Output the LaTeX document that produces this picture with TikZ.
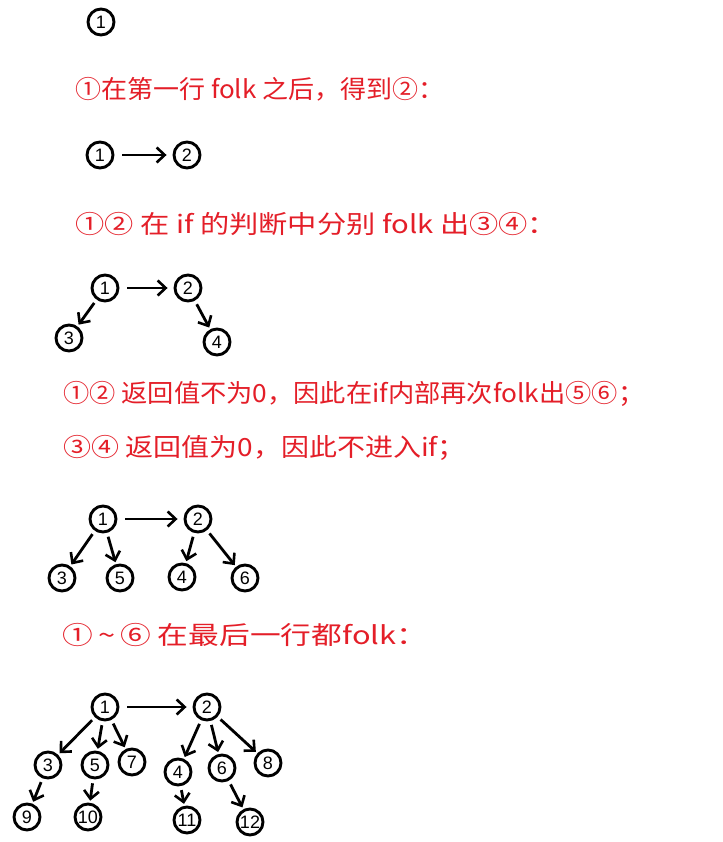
\documentclass[tikz,border=0pt]{standalone}
\usepackage{fontspec}
\newfontfamily\cjk{Noto Sans CJK SC}
\newfontfamily\numf{Liberation Sans}
\usetikzlibrary{arrows.meta}
\definecolor{hred}{RGB}{228,30,40}
\begin{document}
\begin{tikzpicture}[x=1pt,y=-1pt,
  nd/.style={circle,draw,line width=2.9pt,minimum size=26pt,inner sep=0pt,font=\numf\fontsize{18}{18}\selectfont},
  arr/.style={-{Straight Barb[length=8pt,width=15pt,line width=2.6pt]},line width=2.8pt,shorten <=4pt,shorten >=2pt},
  harr/.style={arr,shorten <=8pt,shorten >=6pt},
  txt/.style={anchor=west,inner sep=0pt,text=hred,font=\cjk\fontsize{25}{25}\selectfont}]
\useasboundingbox[fill=white] (0,0) rectangle (722,842);
% top
\node[nd] (a1) at (101,22) {1};
\node[txt] (t1) at (75,89) {\scalebox{1.04}[1]{①在第一行 folk 之后，得到②：}};
% diagram 2
\node[nd] (b1) at (100,155) {1};
\node[nd] (b2) at (187,155) {2};
\draw[harr] (b1) -- (b2);
\node[txt] (t2) at (75,224) {\scalebox{1.17}[1]{①② 在 if 的判断中分别 folk 出③④：}};
% diagram 3
\node[nd] (c1) at (105,288) {1};
\node[nd] (c2) at (188,288) {2};
\node[nd] (c3) at (69,338) {3};
\node[nd] (c4) at (217,342) {4};
\draw[harr] (c1) -- (c2);
\draw[arr] (c1) -- (c3);
\draw[arr] (c2) -- (c4);
\node[txt] (t3) at (63,394) {\scalebox{1.05}[1]{①② 返回值不为0，因此在if内部再次folk出⑤⑥；}};
\node[txt] (t4) at (63,448) {\scalebox{1.12}[1]{③④ 返回值为0，因此不进入if；}};
% diagram 4
\node[nd] (e1) at (103,519) {1};
\node[nd] (e2) at (198,519) {2};
\node[nd] (e3) at (62,578) {3};
\node[nd] (e5) at (120,578) {5};
\node[nd] (e4) at (182,577) {4};
\node[nd] (e6) at (245,578) {6};
\draw[harr] (e1) -- (e2);
\draw[arr] (e1) -- (e3);
\draw[arr] (e1) -- (e5);
\draw[arr] (e2) -- (e4);
\draw[arr] (e2) -- (e6);
\node[txt] (t5) at (62,635) {\scalebox{1.23}[1]{①\,\textasciitilde\,⑥ 在最后一行都folk：}};
% diagram 5
\node[nd] (f1) at (105,707) {1};
\node[nd] (f2) at (207,707) {2};
\node[nd] (f3) at (48,765) {3};
\node[nd] (f5) at (95,765) {5};
\node[nd] (f7) at (132,762) {7};
\node[nd] (f4) at (178,772) {4};
\node[nd] (f6) at (222,768) {6};
\node[nd] (f8) at (268,763) {8};
\node[nd] (f9) at (27,817) {9};
\node[nd] (f10) at (88,817) {10};
\node[nd] (f11) at (187,820) {11};
\node[nd] (f12) at (250,822) {12};
\draw[harr] (f1) -- (f2);
\draw[arr] (f1) -- (f3);
\draw[arr] (f1) -- (f5);
\draw[arr] (f1) -- (f7);
\draw[arr] (f2) -- (f4);
\draw[arr] (f2) -- (f6);
\draw[arr] (f2) -- (f8);
\draw[arr] (f3) -- (f9);
\draw[arr] (f5) -- (f10);
\draw[arr] (f4) -- (f11);
\draw[arr] (f6) -- (f12);
\end{tikzpicture}
\end{document}
